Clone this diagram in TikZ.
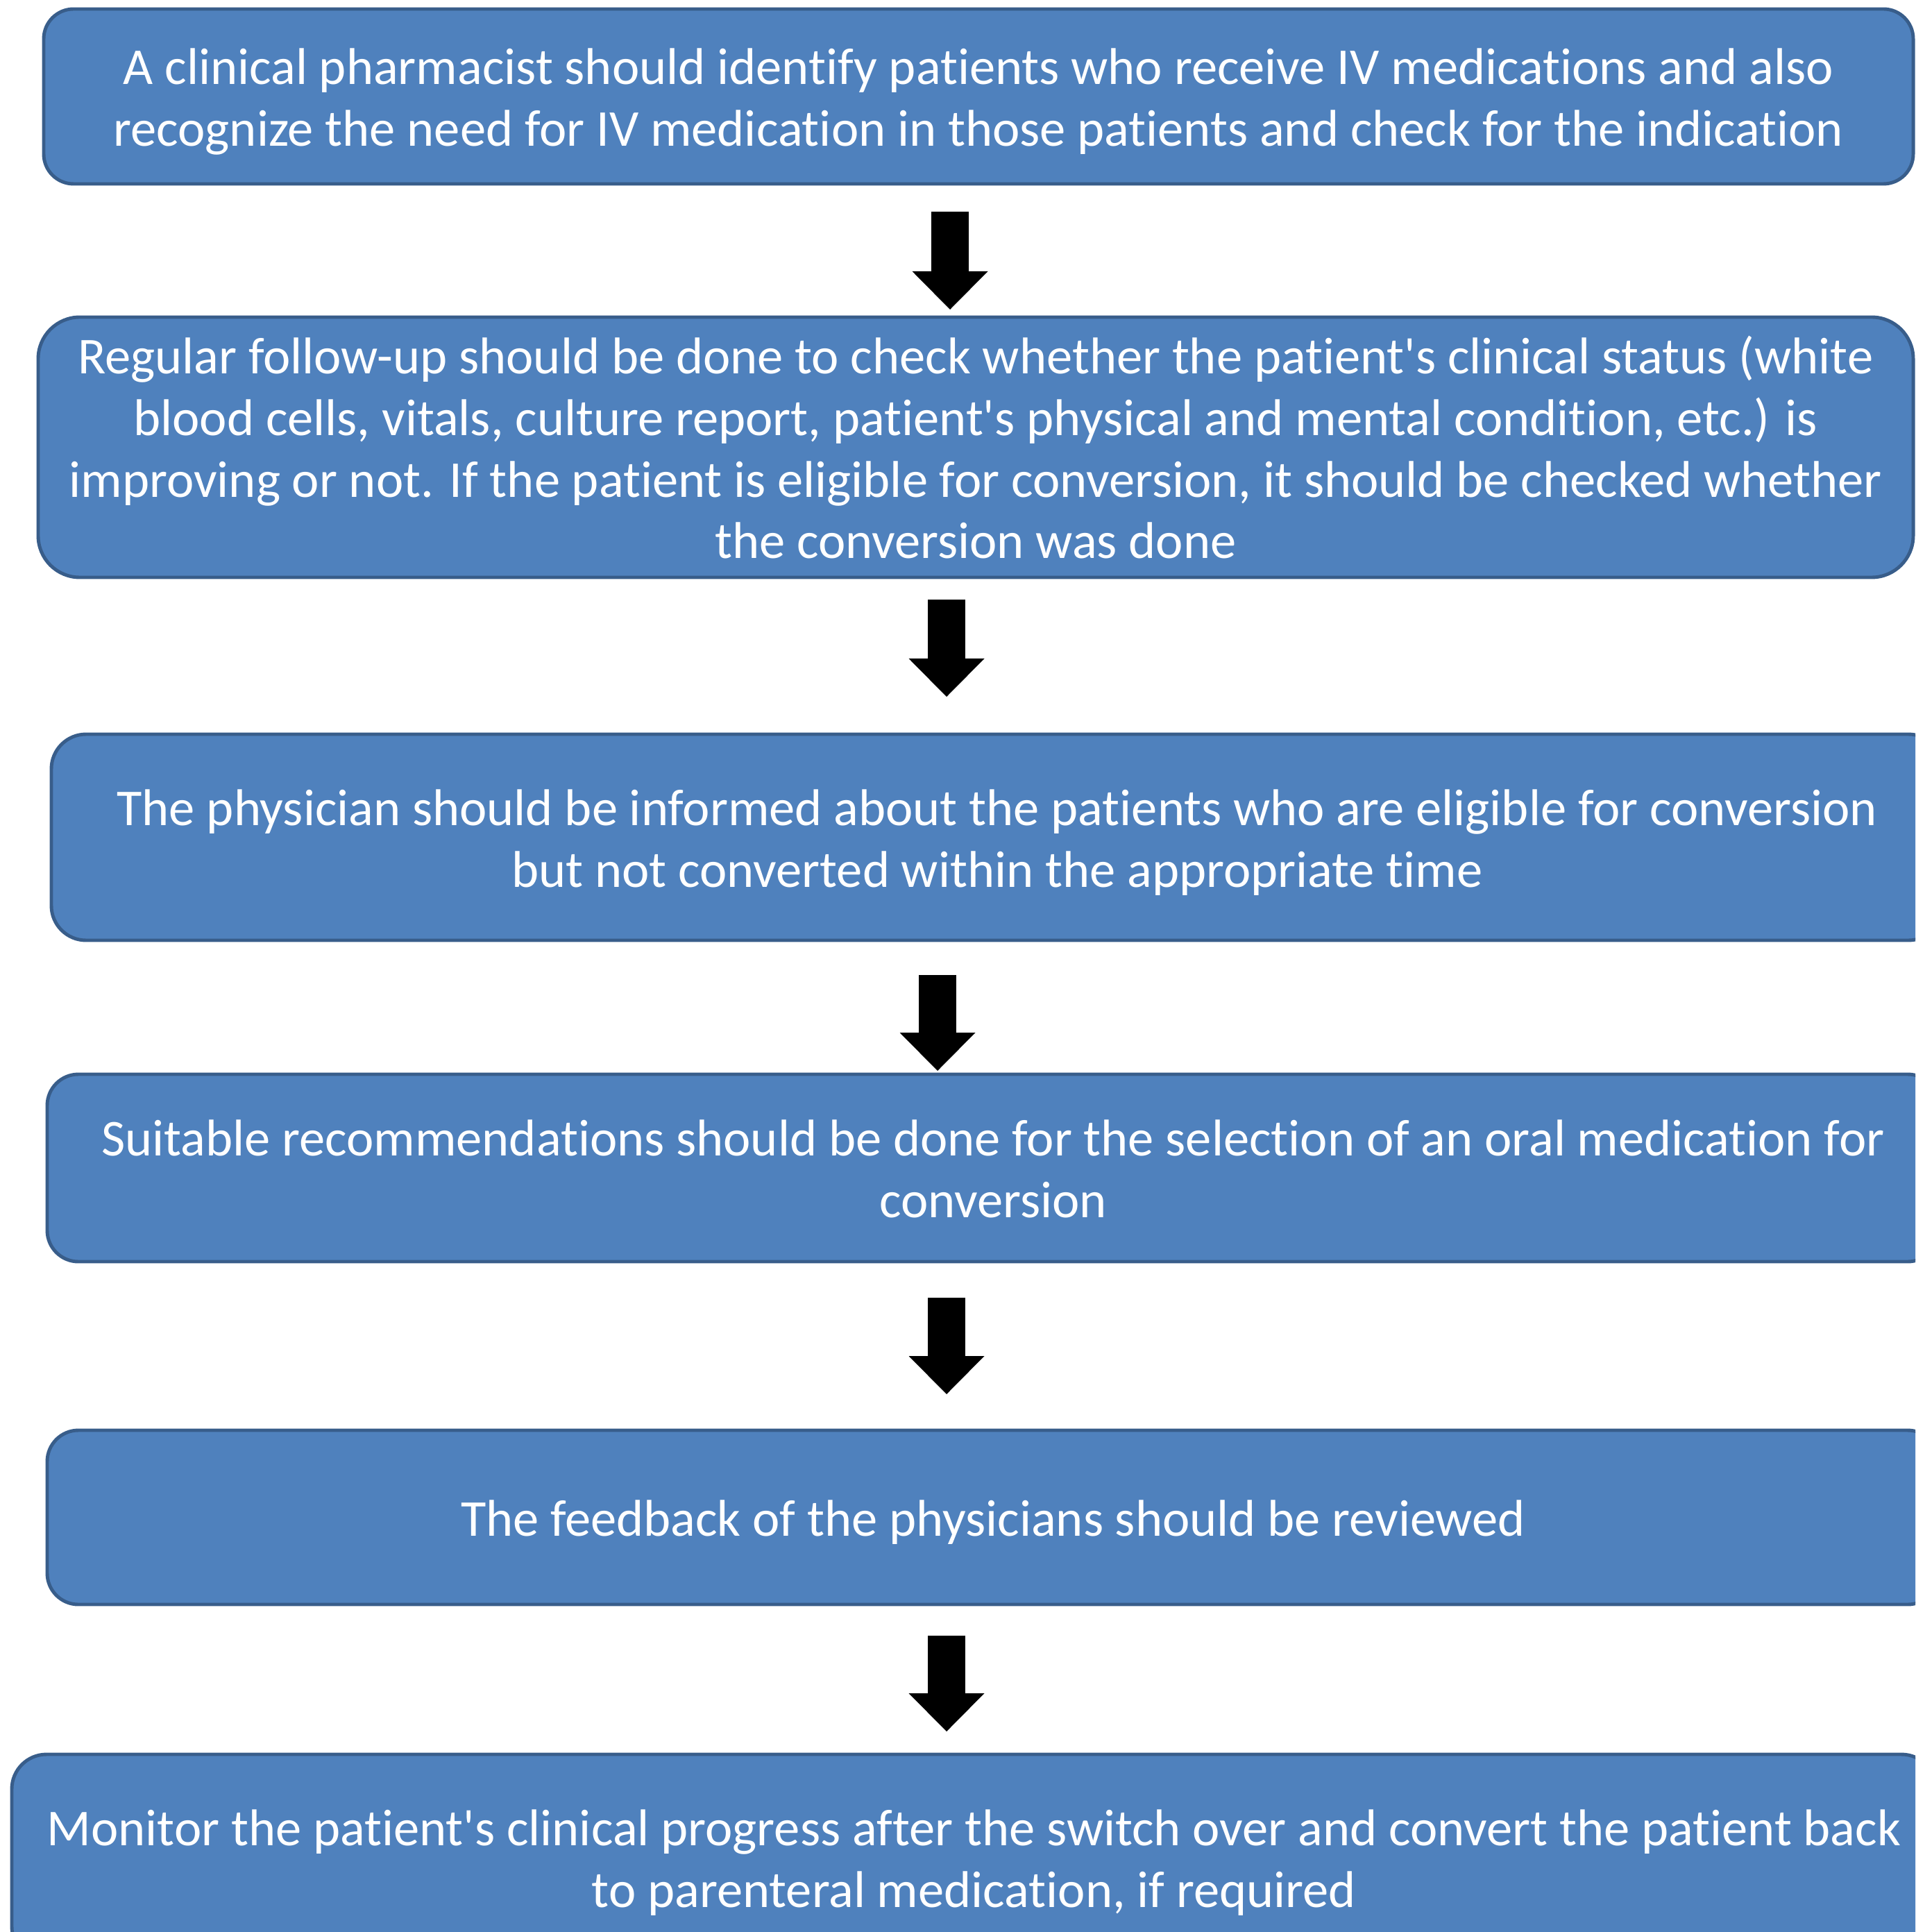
\documentclass[tikz,border=0pt]{standalone}
\usepackage{fontspec}
\setmainfont{Carlito}[Ligatures={NoCommon}]
\usetikzlibrary{arrows.meta}
\usetikzlibrary{positioning}

\definecolor{stepfill}{HTML}{4F81BD}
\definecolor{stepedge}{HTML}{385D8A}
\tikzset{
	stepbox/.style={draw=stepedge, fill=stepfill, line width=1.4pt, text=white,
		align=center, inner sep=0pt, font=\fontsize{21.2}{25.3}\selectfont, text depth=2pt},
	oneline/.style={text height=17.4pt},
	twolines/.style={text height=42.7pt},
	fourlines/.style={text height=93.3pt},
	downarrow/.style={line width=0.54cm, draw=black,
		-{Triangle[width=1.09cm, length=0.55cm, line width=0pt]}}
}

\begin{document}
\begin{tikzpicture}
	\useasboundingbox (0,0) rectangle (27.60,-27.84);
	\clip (0,0) rectangle (27.60,-27.84);
	% steps
	\node[stepbox, twolines, rounded corners=0.43cm, minimum width=26.94cm, minimum height=2.52cm] (s1) at (14.10,-1.39)
		{A clinical pharmacist should identify patients who receive IV medications and also\\
		recognize the need for IV medication in those patients and check for the indication};
	\node[stepbox, fourlines, rounded corners=0.60cm, minimum width=27.02cm, minimum height=3.75cm] (s2) at (14.06,-6.445)
		{Regular follow-up should be done to check whether the patient\textquotesingle s clinical status (white\\
		blood cells, vitals, culture report, patient\textquotesingle s physical and mental condition, etc.) is\\
		improving or not. If the patient is eligible for conversion, it should be checked whether\\
		the conversion was done};
	\node[stepbox, twolines, rounded corners=0.50cm, minimum width=27.26cm, minimum height=2.97cm] (s3) at (14.37,-12.065)
		{The physician should be informed about the patients who are eligible for conversion\\
		but not converted within the appropriate time};
	\node[stepbox, twolines, rounded corners=0.45cm, minimum width=27.26cm, minimum height=2.70cm] (s4) at (14.31,-16.83)
		{Suitable recommendations should be done for the selection of an oral medication for\\
		conversion};
	\node[stepbox, oneline, rounded corners=0.45cm, minimum width=27.26cm, minimum height=2.51cm] (s5) at (14.31,-21.865)
		{The feedback of the physicians should be reviewed};
	\node[stepbox, twolines, rounded corners=0.50cm, minimum width=27.73cm, minimum height=2.98cm] (s6) at (14.035,-26.77)
		{Monitor the patient\textquotesingle s clinical progress after the switch over and convert the patient back\\
		to parenteral medication, if required};
	% arrow ends
	\coordinate (t1) at (13.69,-3.05);%s1 -> s2
	\coordinate (h1) at (13.69,-4.46);
	\coordinate (t2) at (13.64,-8.64);%s2 -> s3
	\coordinate (h2) at (13.64,-10.04);
	\coordinate (t3) at (13.51,-14.05);%s3 -> s4
	\coordinate (h3) at (13.51,-15.43);
	\coordinate (t4) at (13.64,-18.70);%s4 -> s5
	\coordinate (h4) at (13.64,-20.09);
	\coordinate (t5) at (13.64,-23.57);%s5 -> s6
	\coordinate (h5) at (13.64,-24.95);
	\draw[downarrow] (t1) -- (h1);
	\draw[downarrow] (t2) -- (h2);
	\draw[downarrow] (t3) -- (h3);
	\draw[downarrow] (t4) -- (h4);
	\draw[downarrow] (t5) -- (h5);
\end{tikzpicture}
\end{document}
